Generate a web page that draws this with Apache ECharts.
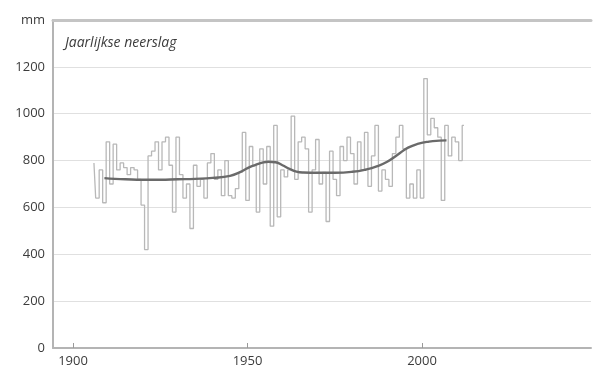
<!DOCTYPE html>
<html>
<head>
<meta charset="utf-8">
<script src="https://cdn.jsdelivr.net/npm/echarts@6/dist/echarts.min.js"></script>
<style>
  html, body { margin: 0; padding: 0; background: #fff; }
  #chart { width: 593px; height: 374px; }
</style>
</head>
<body>
<div id="chart"></div>
<script>
// Annual precipitation (mm), one value per year starting in firstYear
const firstYear = 1906;
const yearlyRain = [
  790, 640, 760, 620, 880, 700, 870, 760, 790, 770,   // 1906-1915
  740, 770, 760, 720, 610, 420, 820, 840, 880, 760,   // 1916-1925
  880, 900, 780, 580, 900, 740, 640, 700, 510, 780,   // 1926-1935
  690, 720, 640, 790, 830, 720, 760, 650, 800, 650,   // 1936-1945
  640, 680, 750, 920, 630, 860, 780, 580, 850, 700,   // 1946-1955
  860, 520, 950, 560, 760, 730, 760, 990, 720, 880,   // 1956-1965
  900, 850, 580, 760, 890, 700, 750, 540, 840, 720,   // 1966-1975
  650, 860, 800, 900, 830, 700, 880, 760, 920, 690,   // 1976-1985
  820, 950, 670, 760, 720, 690, 830, 900, 950, 850,   // 1986-1995
  640, 700, 640, 760, 640, 1150, 910, 980, 940, 900,  // 1996-2005
  630, 950, 820, 900, 880, 800, 950                   // 2006-2012
];

// Smoothed long-term trend
const trendYears  = [1909, 1912, 1915, 1920, 1925, 1930, 1935, 1940, 1945, 1948, 1950, 1952, 1954, 1956, 1958, 1960, 1962, 1964, 1966, 1970, 1975, 1980, 1984, 1987, 1990, 1993, 1996, 1999, 2002, 2005, 2007];
const trendValues = [ 725,  722,  720,  718,  718,  720,  722,  726,  735,  752,  768,  780,  790,  795,  793,  780,  765,  753,  749,  748,  748,  752,  762,  775,  795,  825,  855,  872,  881,  885,  886];

// Axis labels
const xTickYears = [1900, 1950, 2000];
const yTopLabel = 'mm';
const titleText = 'Jaarlijkse neerslag';

const rainData = yearlyRain.map((v, i) => [firstYear + i, v]);
const trendData = trendYears.map((y, i) => [y, trendValues[i]]);

const textColor = '#3c3c3c';
const fontFamily = '"Open Sans", "DejaVu Sans", sans-serif';

const chart = echarts.init(document.getElementById('chart'), null, { renderer: 'canvas' });
chart.setOption({
  animation: false,
  backgroundColor: '#fff',
  title: {
    text: titleText,
    left: 60,
    top: 31,
    textStyle: { fontStyle: 'italic', fontWeight: 'normal', fontSize: 14, color: textColor, fontFamily }
  },
  grid: { left: 53, right: 2, top: 20, bottom: 26 },
  xAxis: [
    {
      type: 'value',
      min: 1894.27,
      max: 2048.4,
      position: 'bottom',
      axisLine: { show: true, lineStyle: { color: '#b4b4b4', width: 2 } },
      axisTick: { show: true, inside: true, length: 5, customValues: xTickYears, lineStyle: { color: '#999' } },
      axisLabel: {
        customValues: xTickYears,
        fontSize: 13,
        color: textColor,
        fontFamily,
        margin: 7,
        formatter: v => String(Math.round(v))
      },
      splitLine: { show: false }
    },
    {
      type: 'value',
      min: 1894.27,
      max: 2048.4,
      position: 'top',
      axisLine: { show: true, lineStyle: { color: '#c4c4c4', width: 3 } },
      axisTick: { show: false },
      axisLabel: { show: false },
      splitLine: { show: false }
    }
  ],
  yAxis: {
    type: 'value',
    min: 0,
    max: 1400,
    interval: 200,
    axisLine: { show: true, lineStyle: { color: '#b4b4b4', width: 2 } },
    axisTick: { show: false },
    axisLabel: {
      fontSize: 13,
      color: textColor,
      fontFamily,
      margin: 8,
      formatter: v => (v === 1400 ? yTopLabel : String(v))
    },
    splitLine: { show: true, lineStyle: { color: '#e0e0e0', width: 1 } }
  },
  series: [
    {
      name: 'neerslag',
      type: 'line',
      step: 'middle',
      data: rainData,
      showSymbol: false,
      lineStyle: { color: '#b8b8b8', width: 1.3 },
      z: 2
    },
    {
      name: 'trend',
      type: 'line',
      smooth: 0.5,
      data: trendData,
      showSymbol: false,
      lineStyle: { color: '#6a6a6a', width: 2.4 },
      z: 3
    }
  ]
});
</script>
</body>
</html>
